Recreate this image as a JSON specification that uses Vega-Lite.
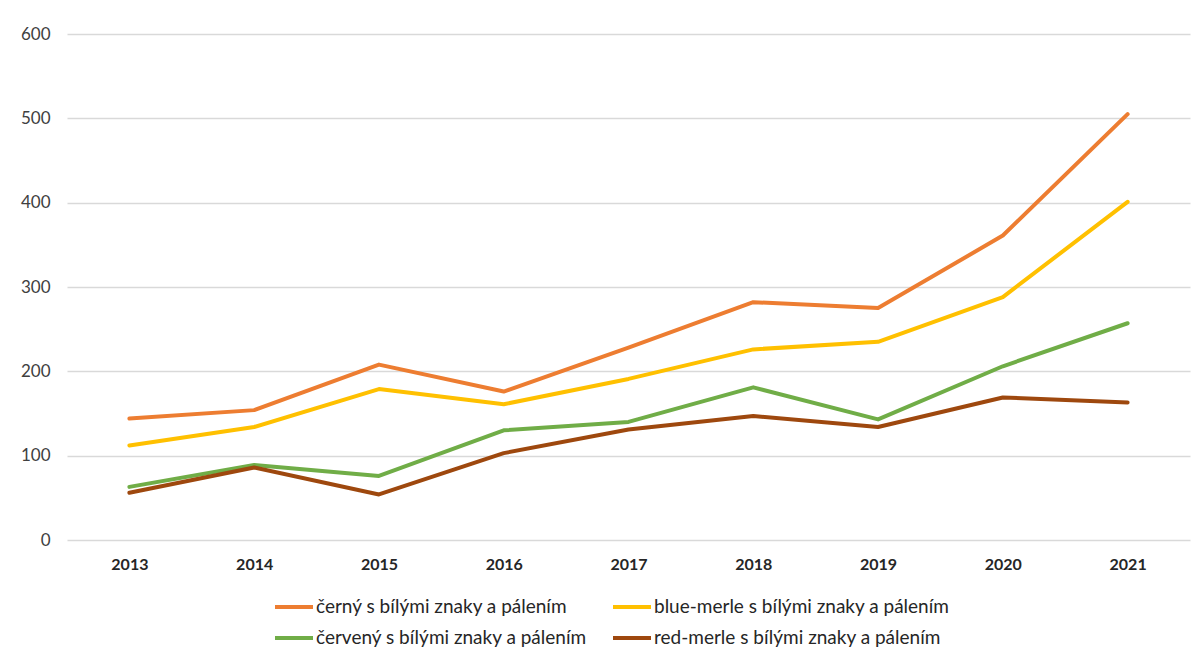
{
  "$schema": "https://vega.github.io/schema/vega-lite/v6.json",
  "width": 1123,
  "height": 506,
  "autosize": {"type": "none"},
  "padding": {"left": 67, "top": 34, "right": 10, "bottom": 121},
  "background": "white",
  "config": {
    "view": {"stroke": null},
    "font": "Lato"
  },
  "data": {
    "values": [
      {"year": "2013", "series": "černý s bílými znaky a pálením", "value": 144},
      {"year": "2014", "series": "černý s bílými znaky a pálením", "value": 154},
      {"year": "2015", "series": "černý s bílými znaky a pálením", "value": 208},
      {"year": "2016", "series": "černý s bílými znaky a pálením", "value": 176},
      {"year": "2017", "series": "černý s bílými znaky a pálením", "value": 228},
      {"year": "2018", "series": "černý s bílými znaky a pálením", "value": 282},
      {"year": "2019", "series": "černý s bílými znaky a pálením", "value": 275},
      {"year": "2020", "series": "černý s bílými znaky a pálením", "value": 361},
      {"year": "2021", "series": "černý s bílými znaky a pálením", "value": 505},
      {"year": "2013", "series": "blue-merle s bílými znaky a pálením", "value": 112},
      {"year": "2014", "series": "blue-merle s bílými znaky a pálením", "value": 134},
      {"year": "2015", "series": "blue-merle s bílými znaky a pálením", "value": 179},
      {"year": "2016", "series": "blue-merle s bílými znaky a pálením", "value": 161},
      {"year": "2017", "series": "blue-merle s bílými znaky a pálením", "value": 191},
      {"year": "2018", "series": "blue-merle s bílými znaky a pálením", "value": 226},
      {"year": "2019", "series": "blue-merle s bílými znaky a pálením", "value": 235},
      {"year": "2020", "series": "blue-merle s bílými znaky a pálením", "value": 288},
      {"year": "2021", "series": "blue-merle s bílými znaky a pálením", "value": 401},
      {"year": "2013", "series": "červený s bílými znaky a pálením", "value": 63},
      {"year": "2014", "series": "červený s bílými znaky a pálením", "value": 89},
      {"year": "2015", "series": "červený s bílými znaky a pálením", "value": 76},
      {"year": "2016", "series": "červený s bílými znaky a pálením", "value": 130},
      {"year": "2017", "series": "červený s bílými znaky a pálením", "value": 140},
      {"year": "2018", "series": "červený s bílými znaky a pálením", "value": 181},
      {"year": "2019", "series": "červený s bílými znaky a pálením", "value": 143},
      {"year": "2020", "series": "červený s bílými znaky a pálením", "value": 206},
      {"year": "2021", "series": "červený s bílými znaky a pálením", "value": 257},
      {"year": "2013", "series": "red-merle s bílými znaky a pálením", "value": 56},
      {"year": "2014", "series": "red-merle s bílými znaky a pálením", "value": 86},
      {"year": "2015", "series": "red-merle s bílými znaky a pálením", "value": 54},
      {"year": "2016", "series": "red-merle s bílými znaky a pálením", "value": 103},
      {"year": "2017", "series": "red-merle s bílými znaky a pálením", "value": 131},
      {"year": "2018", "series": "red-merle s bílými znaky a pálením", "value": 147},
      {"year": "2019", "series": "red-merle s bílými znaky a pálením", "value": 134},
      {"year": "2020", "series": "red-merle s bílými znaky a pálením", "value": 169},
      {"year": "2021", "series": "red-merle s bílými znaky a pálením", "value": 163}
    ]
  },
  "mark": {"type": "line", "strokeWidth": 4, "strokeCap": "round", "strokeJoin": "round"},
  "encoding": {
    "x": {
      "field": "year",
      "type": "ordinal",
      "scale": {"type": "point", "padding": 0.5},
      "axis": {
        "title": null,
        "labelAngle": 0,
        "labelFontWeight": "bold",
        "labelFontSize": 16,
        "labelColor": "#262626",
        "labelPadding": 16,
        "ticks": false,
        "domain": false,
        "grid": false
      }
    },
    "y": {
      "field": "value",
      "type": "quantitative",
      "scale": {"domain": [0, 600], "nice": false},
      "axis": {
        "title": null,
        "values": [0, 100, 200, 300, 400, 500, 600],
        "labelFontSize": 17,
        "labelColor": "#404040",
        "labelPadding": 17,
        "ticks": false,
        "domain": false,
        "gridColor": "#d9d9d9",
        "gridWidth": 1.3
      }
    },
    "color": {
      "field": "series",
      "type": "nominal",
      "sort": null,
      "scale": {
        "domain": [
          "černý s bílými znaky a pálením",
          "blue-merle s bílými znaky a pálením",
          "červený s bílými znaky a pálením",
          "red-merle s bílými znaky a pálením"
        ],
        "range": ["#ED7D31", "#FFC000", "#70AD47", "#9E480E"]
      },
      "legend": {
        "title": null,
        "orient": "none",
        "legendX": 206,
        "legendY": 552,
        "columns": 2,
        "direction": "horizontal",
        "symbolType": "stroke",
        "symbolSize": 1444,
        "symbolStrokeWidth": 4,
        "labelFontSize": 19,
        "labelColor": "#262626",
        "labelOffset": 1,
        "labelLimit": 400,
        "columnPadding": 17,
        "rowPadding": 0
      }
    }
  }
}
